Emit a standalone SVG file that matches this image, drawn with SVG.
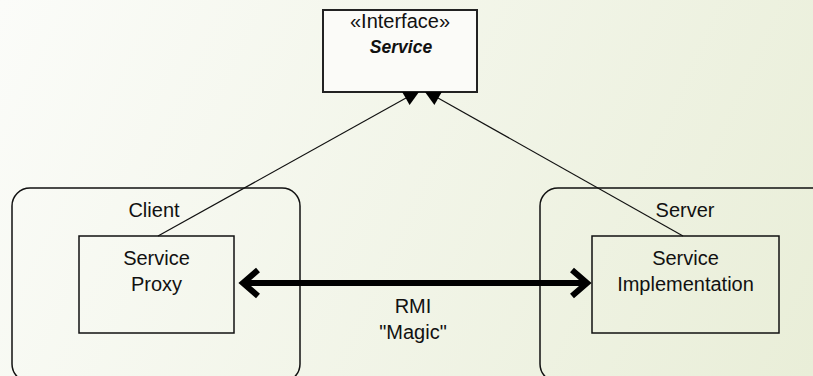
<svg xmlns="http://www.w3.org/2000/svg" width="813" height="376" viewBox="0 0 813 376">
  <defs>
    <linearGradient id="bg" x1="0" y1="0" x2="813" y2="376" gradientUnits="userSpaceOnUse">
      <stop offset="0" stop-color="#fbfcf9"/>
      <stop offset="1" stop-color="#e9eed8"/>
    </linearGradient>
    <style>
      .pkg { fill: none; stroke: #111; stroke-width: 1.5; }
      .box { fill: none; stroke: #111; stroke-width: 1.5; }
      .ibox { fill: #fbfbf8; stroke: #222; stroke-width: 2; }
      .t { font-family: "Liberation Sans", Arial, sans-serif; font-size: 20px; fill: #111; text-anchor: middle; }
      .bi { font-weight: bold; font-style: italic; font-size: 17.5px; }
      .gen { stroke: #111; stroke-width: 1.2; fill: none; }
      .head { fill: #000; stroke: none; }
      .rmi { stroke: #000; stroke-width: 6; fill: none; stroke-linejoin: miter; }
    </style>
  </defs>
  <rect x="0" y="0" width="813" height="376" fill="url(#bg)"/>

  <g id="client">
    <rect class="pkg" x="12" y="188" width="288" height="194" rx="18" ry="18"/>
    <text class="t" x="154" y="217">Client</text>
  </g>

  <g id="server">
    <rect class="pkg" x="540" y="188" width="300" height="194" rx="18" ry="18"/>
    <text class="t" x="685" y="217">Server</text>
  </g>

  <g id="service-interface">
    <rect class="ibox" x="323" y="10" width="154" height="82"/>
    <text class="t" x="400" y="28">«Interface»</text>
    <text class="t bi" x="401" y="53">Service</text>
  </g>

  <g id="service-proxy">
    <rect class="box" x="79" y="236" width="155" height="97"/>
    <text class="t" x="156.5" y="265">Service</text>
    <text class="t" x="156.5" y="291">Proxy</text>
  </g>

  <g id="service-implementation">
    <rect class="box" x="592" y="236" width="187" height="97"/>
    <text class="t" x="685.5" y="265">Service</text>
    <text class="t" x="685.5" y="291">Implementation</text>
  </g>

  <g id="connectors">
    <line class="gen" x1="158" y1="236" x2="406" y2="98"/>
    <polygon class="head" points="402.2,92 419,92 409.6,105"/>
    <line class="gen" x1="683" y1="236" x2="438" y2="98"/>
    <polygon class="head" points="425,92 441.8,92 434.4,105"/>

    <line class="rmi" x1="244" y1="283" x2="586" y2="283"/>
    <polyline class="rmi" points="258,270 243,283 258,296"/>
    <polyline class="rmi" points="572,270 587,283 572,296"/>
    <text class="t" x="413" y="313">RMI</text>
    <text class="t" x="413" y="339">"Magic"</text>
  </g>
</svg>
